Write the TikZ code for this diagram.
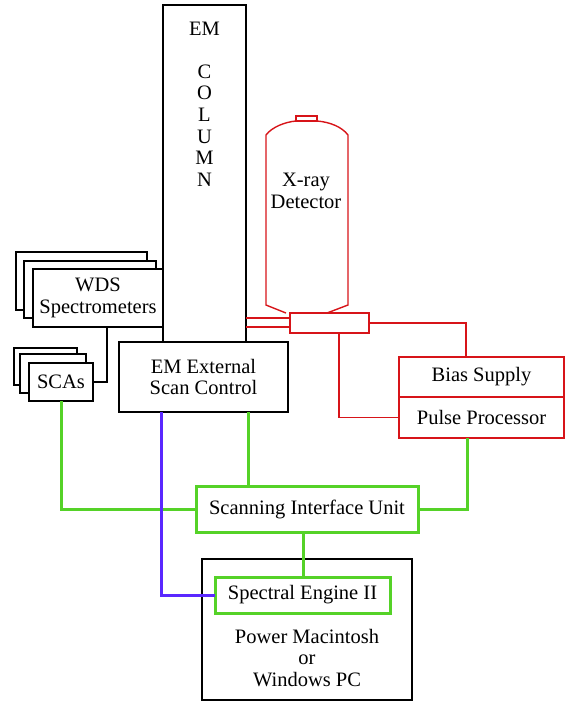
\documentclass[tikz,border=0pt]{standalone}
\usepackage{fontspec}
\setmainfont{Liberation Serif}
\definecolor{lgreen}{RGB}{85,210,40}
\definecolor{lblue}{RGB}{90,40,255}
\definecolor{lred}{RGB}{215,20,25}
\begin{document}
\begin{tikzpicture}[x=1pt,y=-1pt,
  txt/.style={font=\fontsize{20.5}{21.6}\selectfont, align=center, inner sep=0pt},
  bx/.style={draw=black, line width=1.4pt, fill=white, rectangle, inner sep=0pt, outer sep=0pt, txt},
  rbx/.style={bx, draw=lred, line width=1.4pt},
  gbx/.style={bx, draw=lgreen, line width=3pt},
  blk/.style={draw=black, line width=1.4pt},
  grn/.style={draw=lgreen, line width=3pt},
  blu/.style={draw=lblue, line width=3pt},
  rd/.style={draw=lred, line width=1.4pt}]
\useasboundingbox (0,0) rectangle (565,702);
% EM column
\node[bx, minimum width=83, minimum height=337] (col) at (204.5,173.5) {};
\node[txt] (collabel) at (204.5,104) {EM\\[21.6pt]C\\O\\L\\U\\M\\N};
% WDS stack
\node[bx, minimum width=131, minimum height=58] (wds3) at (81.5,281) {};
\node[bx, minimum width=132, minimum height=57] (wds2) at (90,289.5) {};
\node[bx, minimum width=130, minimum height=58] (wds) at (98,298) {WDS\\Spectrometers};
% SCAs stack
\node[bx, minimum width=63, minimum height=37] (sca3) at (45.5,366.5) {};
\node[bx, minimum width=66, minimum height=39] (sca2) at (53,373.5) {};
\node[bx, minimum width=64, minimum height=38] (scas) at (61,382) {SCAs};
% EM External Scan Control
\node[bx, minimum width=169, minimum height=70] (emx) at (203.5,377) {EM External\\Scan Control};
% X-ray detector
\draw[rd] (286,313) -- (266,305) -- (266,135)
  .. controls (272,127) and (285,122) .. (296,121) -- (317,121)
  .. controls (330,122) and (342,127) .. (348,135) -- (348,305) -- (327,313);
\draw[rd] (296,121) rectangle (317,116);
\node[txt] (det) at (306,191) {X-ray\\Detector};
\node[rbx, minimum width=79, minimum height=20] (conn) at (329.5,323) {};
% Bias supply / pulse processor
\node[rbx, minimum width=165, minimum height=40] (bias) at (481.5,377) {Bias Supply};
\node[rbx, minimum width=165, minimum height=41] (pulse) at (481.5,417.5) {Pulse Processor};
% Scanning interface unit
\node[gbx, minimum width=222, minimum height=46] (siu) at (307,509) {Scanning Interface Unit};
% PC
\node[bx, minimum width=210, minimum height=141] (pc) at (307,629.5) {};
\node[txt] (pctext) at (307,658) {Power Macintosh\\or\\Windows PC};
\node[gbx, minimum width=175, minimum height=36] (se) at (302.5,595) {Spectral Engine II};
% helper coordinates
\coordinate (xg1) at (248,0);
\coordinate (xg2) at (467,0);
\coordinate (xg3) at (303,0);
\coordinate (xb1) at (161,0);
\coordinate (xk1) at (107,0);
\coordinate (yr1) at (0,318);
\coordinate (yr2) at (0,327);
\coordinate (xr3) at (466,0);
\coordinate (xr4) at (339,0);
% black connector
\draw[blk] (wds.south -| xk1) |- (scas.east);
% red connectors
\draw[rd] (col.east |- yr1) -- (conn.west |- yr1);
\draw[rd] (col.east |- yr2) -- (conn.west |- yr2);
\draw[rd] (conn.east) -| (bias.north -| xr3);
\draw[rd] (conn.south -| xr4) |- (pulse.west);
% green connectors
\draw[grn] (scas.south) |- (siu.west);
\draw[grn] (emx.south -| xg1) -- (siu.north -| xg1);
\draw[grn] (pulse.south -| xg2) |- (siu.east);
\draw[grn] (siu.south -| xg3) -- (se.north -| xg3);
% blue connector
\draw[blu] (emx.south -| xb1) |- (se.west);
\end{tikzpicture}
\end{document}
